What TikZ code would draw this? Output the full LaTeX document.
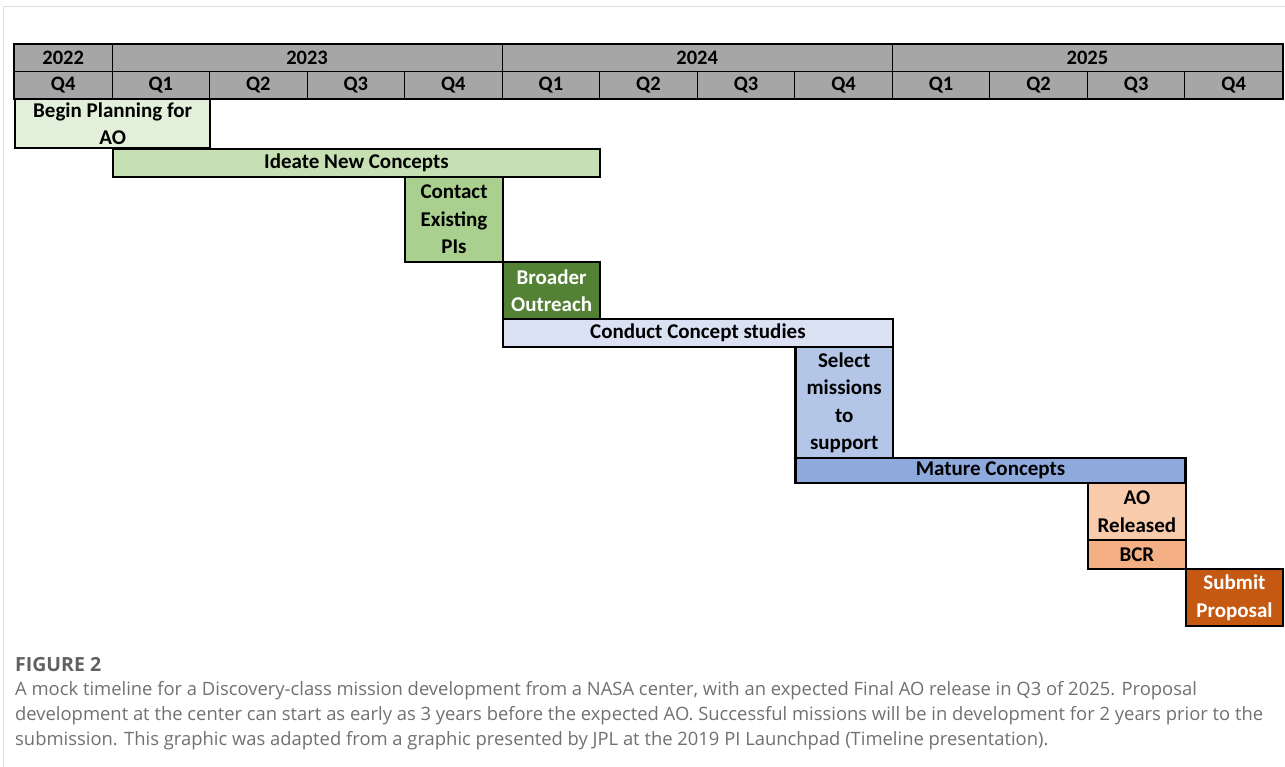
\documentclass[tikz,border=0pt]{standalone}
\usepackage{fontspec}
\setmainfont{Carlito}
\newfontfamily\capfont{Open Sans}
\usetikzlibrary{positioning}
\definecolor{hdrgray}{HTML}{A6A6A6}
\definecolor{planfill}{HTML}{E2EFDA}
\definecolor{ideafill}{HTML}{C6E0B4}
\definecolor{contactfill}{HTML}{A9D08E}
\definecolor{outreachfill}{HTML}{548235}
\definecolor{studyfill}{HTML}{D9E1F2}
\definecolor{selectfill}{HTML}{B4C6E7}
\definecolor{maturefill}{HTML}{8EA9DB}
\definecolor{aofill}{HTML}{F8CBAD}
\definecolor{bcrfill}{HTML}{F4B084}
\definecolor{submitfill}{HTML}{C65911}
\definecolor{framegray}{HTML}{DDDDDD}
\definecolor{capgray}{HTML}{707070}

\begin{document}
\begin{tikzpicture}[
    x=1pt, y=-1pt,
    cell/.style ={
        draw=black,
        line width=0.9pt,
        fill=hdrgray,
        inner sep=0pt,
        minimum height=27pt,
        anchor=north west,
        font=\bfseries\fontsize{20.5}{23}\selectfont
    },
    task/.style ={
        draw=black,
        line width=2.2pt,
        inner sep=0pt,
        anchor=north west,
        align=center,
        font=\bfseries\fontsize{21}{27.5}\selectfont
    },
    captext/.style ={
        anchor=north west,
        align=left,
        inner sep=0pt,
        text=capgray,
        font=\capfont\fontsize{18.4}{25}\selectfont
    }
    ]
    \useasboundingbox (0,0) rectangle (1285,767);
    \draw[framegray, line width=1pt] (3,767) -- (3,7) -- (1285,7);

    % header
    \node[cell, minimum width=97.54pt] (y2022) at (14,44) {2022};
    \node[cell, minimum width=390.16pt] (y2023) at (111.54,44) {2023};
    \node[cell, minimum width=390.16pt] (y2024) at (501.7,44) {2024};
    \node[cell, minimum width=390.16pt] (y2025) at (891.86,44) {2025};
    \foreach \q [count=\i from 0] in {4,1,2,3,4,1,2,3,4,1,2,3,4}
        \node[cell, minimum width=97.54pt] (q\i) at ({14+\i*97.54},71) {Q\q};
    \draw[line width=2.2pt] (y2022.north west) rectangle (q12.south east);

    % tasks
    \node[task, fill=planfill, minimum width=195.08pt, minimum height=49pt] (plan) at (14,98) {Begin Planning for\\AO};
    \node[task, fill=ideafill, minimum width=487.7pt, minimum height=28pt] (ideate) at (111.54,148) {Ideate New Concepts};
    \node[task, fill=contactfill, minimum width=97.54pt, minimum height=85pt] (contact) at (404.16,176) {Contact\\Existing\\PIs};
    \node[task, fill=outreachfill, text=white, minimum width=97.54pt, minimum height=57pt] (outreach) at (501.7,261) {Broader\\Outreach};
    \node[task, fill=studyfill, minimum width=390.16pt, minimum height=28pt] (study) at (501.7,318) {Conduct Concept studies};
    \node[task, fill=selectfill, minimum width=97.54pt, minimum height=111pt] (select) at (794.32,346) {Select\\missions\\to\\support};
    \node[task, fill=maturefill, minimum width=390.16pt, minimum height=25pt] (mature) at (794.32,457) {Mature Concepts};
    \node[task, fill=aofill, minimum width=97.54pt, minimum height=57pt] (aorel) at (1087.02,482) {AO\\Released};
    \node[task, fill=bcrfill, minimum width=97.54pt, minimum height=29pt] (bcr) at (1087.02,539) {BCR};
    \node[task, fill=submitfill, text=white, minimum width=97.54pt, minimum height=57pt] (submit) at (1184.56,568) {Submit\\Proposal};

    % caption
    \node[captext, text=black!62, anchor=west, font=\capfont\bfseries\fontsize{19.5}{25}\selectfont] (figlabel) at (15,665) {FIGURE 2};
    \node[captext] (caption) at (15,681.5) {A mock timeline for a Discovery-class mission development from a NASA center, with an expected Final AO release in Q3 of 2025. Proposal\\
development at the center can start as early as 3 years before the expected AO. Successful missions will be in development for 2 years prior to the\\
submission. This graphic was adapted from a graphic presented by JPL at the 2019 PI Launchpad (Timeline presentation).};
\end{tikzpicture}
\end{document}
